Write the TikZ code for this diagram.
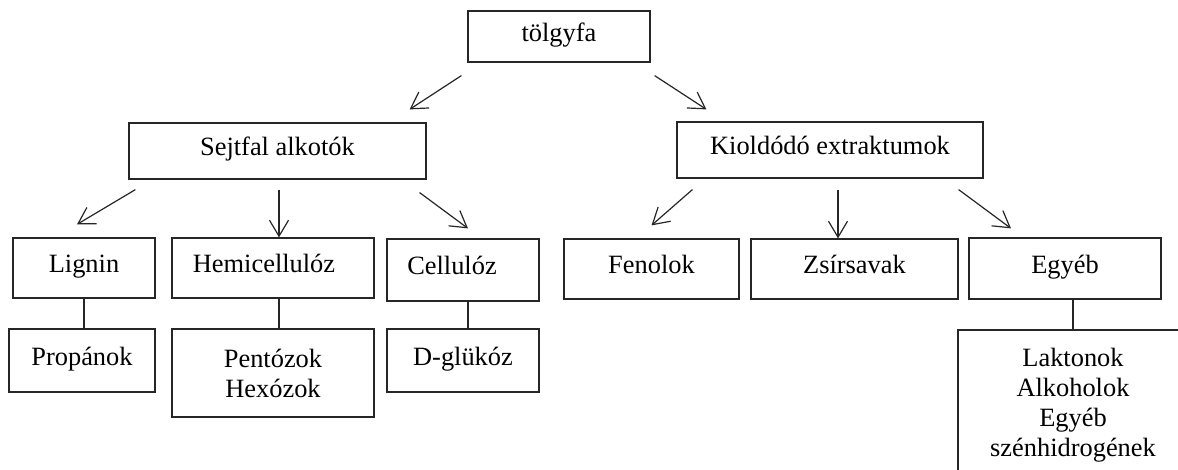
\documentclass[tikz,border=0pt]{standalone}
\usepackage{fontspec}
\setmainfont{Liberation Serif}
\usetikzlibrary{arrows.meta,positioning,calc}
\tikzset{
	dbase/.style={draw=black!85, line width=0.6pt, inner sep=0pt,
		font=\fontsize{13.2}{15}\selectfont},
	dbox/.style={dbase, text height=8.5pt, text depth=3.5pt},
	dmulti/.style={dbase, align=center},
	darr/.style={-{Straight Barb[length=8pt,width=9.5pt]}, line width=0.6pt,
		draw=black!85},
	dline/.style={line width=0.6pt, draw=black!85},
}

\begin{document}
\begin{tikzpicture}[x=0.5pt, y=-0.5pt]
	\clip (0,0) rectangle (1178,470);
	% top level
	\node[dbox, minimum width=91pt, minimum height=25.5pt] (tolgy) at (559,36.5) {tölgyfa};
	\node[dbox, minimum width=148.5pt, minimum height=28pt] (sejtfal) at (277.5,151) {Sejtfal alkotók};
	\node[dbox, minimum width=153pt, minimum height=28pt] (kiold) at (830,150) {Kioldódó extraktumok};
	% cell wall components
	\node[dbox, minimum width=71pt, minimum height=30pt] (lignin) at (84,268) {Lignin};
	\node[dbox, minimum width=101pt, minimum height=30pt] (hemi) at (273,268) {\kern-9pt Hemicellulóz};
	\node[dbox, minimum width=76pt, minimum height=31pt] (cell) at (463,270) {\kern-11pt Cellulóz};
	\node[dbox, minimum width=73pt, minimum height=31.5pt] (prop) at (82,360.5) {Propánok};
	\node[dmulti, minimum width=101pt, minimum height=44pt] (pent) at (273,373) {Pentózok\\Hexózok};
	\node[dbox, minimum width=76pt, minimum height=31.5pt] (dglu) at (463,360.5) {D-glükóz};
	% extractives
	\node[dbox, minimum width=87.5pt, minimum height=30pt] (fenol) at (651.5,269) {Fenolok};
	\node[dbox, minimum width=103.5pt, minimum height=30pt] (zsir) at (854.5,269) {Zsírsavak};
	\node[dbox, minimum width=96pt, minimum height=30.5pt] (egyeb) at (1065,268.5) {Egyéb};
	\node[dmulti, minimum width=115pt, minimum height=75pt] (lakt) at (1073,405) {Laktonok\\Alkoholok\\Egyéb\\szénhidrogének};
	% arrows
	\draw[darr] ($(tolgy.south west)+(-6,13)$) -- ($(sejtfal.north east)+(-17,-13)$);
	\draw[darr] ($(tolgy.south east)+(4,13)$) -- ($(kiold.north west)+(30,-12)$);
	\draw[darr] ($(sejtfal.south west)+(7,10)$) -- ($(lignin.north)+(-7,-13)$);
	\draw[darr] ($(sejtfal.south)+(1.5,10)$) coordinate (sm) -- (sm |- hemi.north);
	\draw[darr] ($(sejtfal.south east)+(-7,13)$) -- ($(cell.north)+(5,-10)$);
	\draw[darr] ($(kiold.south west)+(16,11)$) -- ($(fenol.north)+(0,-13)$);
	\draw[darr] ($(kiold.south)+(8,11)$) coordinate (km) -- (km |- zsir.north);
	\draw[darr] ($(kiold.south east)+(-25,11)$) -- ($(egyeb.north)+(-54,-9)$);
	% plain links
	\draw[dline] (lignin.south) -- (lignin.south |- prop.north);
	\draw[dline] ($(hemi.south)+(6,0)$) -- ($(pent.north)+(6,0)$);
	\draw[dline] ($(cell.south)+(5,0)$) -- ($(dglu.north)+(5,0)$);
	\draw[dline] (egyeb.south -| lakt.north) -- (lakt.north);
\end{tikzpicture}
\end{document}
